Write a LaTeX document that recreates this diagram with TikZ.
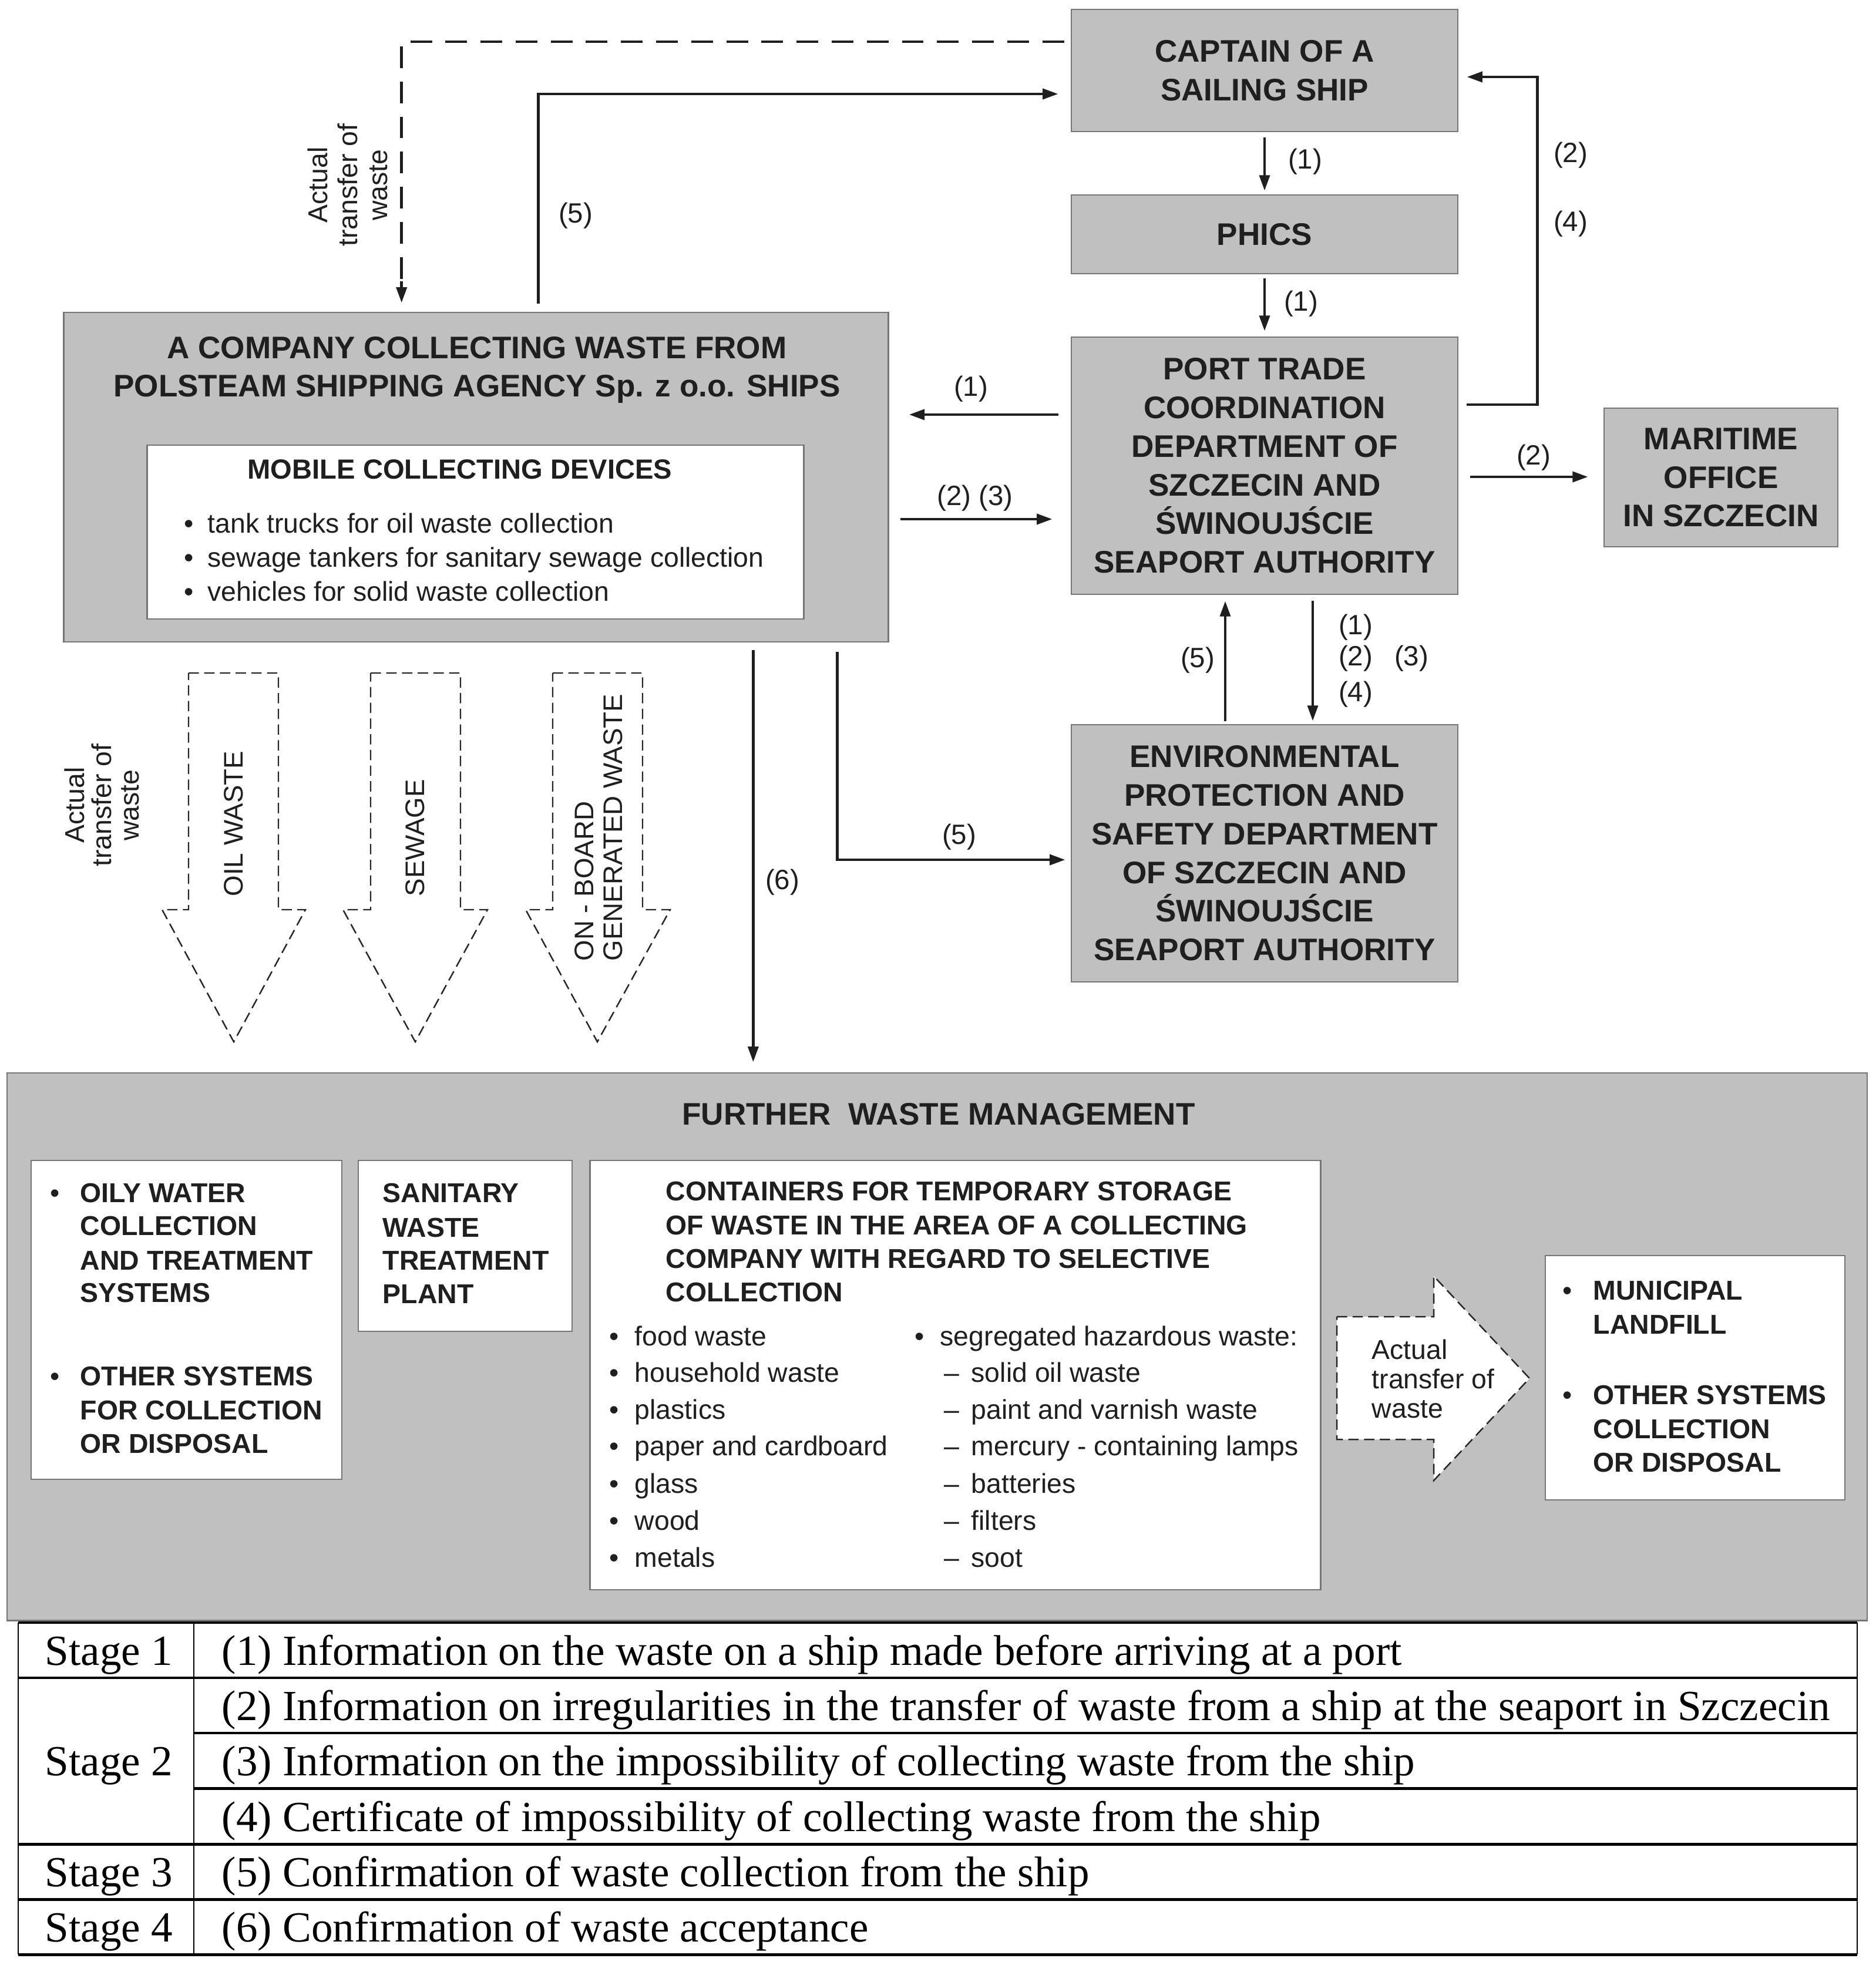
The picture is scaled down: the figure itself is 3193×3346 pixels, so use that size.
\documentclass[tikz,border=0pt]{standalone}
\usepackage{fontspec}
\setmainfont{Liberation Sans}
\newfontfamily\serifF{Liberation Serif}
\usetikzlibrary{arrows.meta,calc}
\definecolor{boxgray}{RGB}{192,192,192}
\definecolor{edgegray}{RGB}{118,118,118}
\begin{document}
\begin{tikzpicture}[x=0.01cm,y=-0.01cm,
  gbox/.style={draw=edgegray,fill=boxgray,line width=0.7pt,inner sep=0pt},
  wbox/.style={draw=edgegray,fill=white,line width=0.7pt,inner sep=0pt},
  btxt/.style={font=\fontsize{15.1}{18.7}\selectfont\bfseries,align=center,text=black!88},
  lbl/.style={font=\fontsize{13.5}{16}\selectfont,inner sep=0pt,text=black!88},
  ln/.style={anchor=west,inner sep=0pt,text height=0.72em,text depth=0pt,text=black!88},
  rtxt/.style={font=\fontsize{13.2}{16}\selectfont},
  bbtxt/.style={font=\fontsize{13.2}{16}\selectfont\bfseries},
  arr/.style={line width=1.35pt,draw=black!88,-{Triangle[length=7.5pt,width=5pt]}},
  dline/.style={line width=1.35pt,draw=black!88,dash pattern=on 10.5pt off 6.5pt},
  bdash/.style={line width=0.7pt,draw=black!85,fill=white,dash pattern=on 5pt off 2.6pt},
  tline/.style={line width=1.4pt},
  vline/.style={line width=0.8pt},
  ttxt/.style={font=\serifF\fontsize{20.8}{24}\selectfont,anchor=base west,inner sep=0pt}
]
\fill[white] (0,0) rectangle (3193,3346);
\useasboundingbox (0,0) rectangle (3193,3346);

% ---------- top boxes ----------
\node[gbox,btxt,minimum width=6.58cm,minimum height=2.08cm] (captain) at (2153,120) {CAPTAIN OF A\\SAILING SHIP};
\node[gbox,btxt,minimum width=6.58cm,minimum height=1.34cm] (phics) at (2153,399) {PHICS};
\node[gbox,btxt,minimum width=6.58cm,minimum height=4.38cm] (port) at (2153,793) {PORT TRADE\\COORDINATION\\DEPARTMENT OF\\SZCZECIN AND\\ŚWINOUJŚCIE\\SEAPORT AUTHORITY};
\node[gbox,btxt,minimum width=3.98cm,minimum height=2.36cm] (maritime) at (2930,813) {MARITIME\\OFFICE\\IN SZCZECIN};
\node[gbox,btxt,minimum width=6.58cm,minimum height=4.38cm] (env) at (2153,1453) {ENVIRONMENTAL\\PROTECTION AND\\SAFETY DEPARTMENT\\OF SZCZECIN AND\\ŚWINOUJŚCIE\\SEAPORT AUTHORITY};

\node[gbox,minimum width=14.03cm,minimum height=5.61cm] (company) at (810.5,812.5) {};
\node[btxt,inner sep=0pt] (comptitle) at (812,630) {A COMPANY COLLECTING WASTE FROM\\POLSTEAM SHIPPING AGENCY Sp. z o.o. SHIPS};
\node[wbox,minimum width=11.17cm,minimum height=2.96cm] (mobile) at (809.5,906) {};
\node[ln,anchor=center,font=\fontsize{13.4}{16}\selectfont\bfseries] (mobtitle) at (783,803) {MOBILE COLLECTING DEVICES};
\foreach \y/\t [count=\i] in {895/tank trucks for oil waste collection,953/sewage tankers for sanitary sewage collection,1011/vehicles for solid waste collection}{
  \node[ln,anchor=center,rtxt] (mobb\i) at (322,\y) {•};
  \node[ln,rtxt] (mobt\i) at (353,\y) {\t};
}

% ---------- connectors top ----------
\coordinate (dA) at ([shift={(-11,-49)}]captain.west);
\draw[dline] (dA) -| ([xshift=5.76cm,yshift=0.5cm]company.north west);
\draw[line width=1.35pt,draw=black!88,-{Triangle[length=7.5pt,width=5pt]}] ([xshift=5.76cm,yshift=0.52cm]company.north west) -- ([xshift=5.76cm,yshift=0.15cm]company.north west);
\node[lbl,rotate=90,align=center,font=\fontsize{13.2}{14.6}\selectfont] (att1) at (592,315) {Actual\\transfer of\\waste};

\draw[arr] ([shift={(809,-14)}]company.north west) |- ([shift={(-21,40)}]captain.west);
\node[lbl] (l5a) at (980,367) {(5)};

\draw[arr,shorten <=0.09cm,shorten >=0.06cm] (captain) -- (phics);
\node[lbl] (l1a) at (2222,275) {(1)};
\draw[arr,shorten <=0.07cm,shorten >=0.09cm] (phics) -- (port);
\node[lbl] (l1b) at (2215,517) {(1)};

\coordinate (p1) at ([shift={(-21,-87)}]port.west);
\draw[arr,shorten >=0.34cm] (p1) -- (p1 -| company.east);
\node[lbl] (l1c) at (1653,662) {(1)};

\coordinate (p23) at ([shift={(-31,91)}]port.west);
\draw[arr,shorten <=0.19cm] (p23 -| company.east) -- (p23);
\node[lbl] (l23) at (1660,848) {(2) (3)};

\draw[arr] ([shift={(14,-104)}]port.east) -- ++(120,0) |- ([shift={(14,11)}]captain.east);
\node[lbl] (l2a) at (2674,264) {(2)};
\node[lbl] (l4a) at (2674,381) {(4)};

\coordinate (p2m) at ([shift={(20,19)}]port.east);
\draw[arr,shorten >=0.26cm] (p2m) -- (p2m -| maritime.west);
\node[lbl] (l2b) at (2611,779) {(2)};

\coordinate (e5) at ([shift={(-67,-5)}]env.north);
\draw[arr,shorten >=0.10cm] (e5) -- (e5 |- port.south);
\node[lbl] (l5b) at (2039,1124) {(5)};

\coordinate (pe) at ([shift={(82,10)}]port.south);
\draw[arr,shorten >=0.05cm] (pe) -- (pe |- env.north);
\node[lbl] (l1d) at (2308,1068) {(1)};
\node[lbl] (l2c) at (2308,1121) {(2)};
\node[lbl] (l3c) at (2403,1121) {(3)};
\node[lbl] (l4c) at (2308,1182) {(4)};

\coordinate (c5) at ([shift={(1318,16)}]company.south west);
\coordinate (e5w) at ([shift={(0,11)}]env.west);
\draw[arr,shorten >=0.09cm] (c5) |- (e5w);
\node[lbl] (l5c) at (1633,1425) {(5)};

% ---------- further waste management ----------
\node[gbox,minimum width=31.65cm,minimum height=9.32cm] (further) at (1595.5,2293) {};
\node[font=\fontsize{15.1}{18}\selectfont\bfseries,inner sep=0pt,text=black!88] (ftitle) at (1598,1897) {FURTHER\ \ WASTE MANAGEMENT};

\coordinate (c6) at ([shift={(1175,13)}]company.south west);
\draw[arr,shorten >=0.17cm] (c6) -- (c6 |- further.north);
\node[lbl] (l6) at (1332,1502) {(6)};

% block arrows
\draw[bdash] (321,1146) -- (474,1146) -- (474,1549) -- (520,1549) -- (398,1774) -- (276,1549) -- (321,1549) -- cycle;
\draw[bdash] (631,1146) -- (784,1146) -- (784,1549) -- (830,1549) -- (707,1774) -- (584,1549) -- (631,1549) -- cycle;
\draw[bdash] (941,1146) -- (1094,1146) -- (1094,1549) -- (1141,1549) -- (1017,1774) -- (895,1549) -- (941,1549) -- cycle;
\node[lbl,rotate=90,anchor=west,font=\fontsize{13}{15}\selectfont] (oil) at (398,1527) {OIL WASTE};
\node[lbl,rotate=90,anchor=west,font=\fontsize{13}{15}\selectfont] (sew) at (707,1527) {SEWAGE};
\node[lbl,rotate=90,anchor=west,align=left,font=\fontsize{13}{13.8}\selectfont] (onb) at (1019,1637) {ON - BOARD\\GENERATED WASTE};
\node[lbl,rotate=90,align=center,font=\fontsize{13.2}{13.2}\selectfont] (att2) at (173,1371) {Actual\\transfer of\\waste};

% boxes in further
\node[wbox,minimum width=5.29cm,minimum height=5.43cm] (b1) at (317.5,2247.5) {};
\node[wbox,minimum width=3.64cm,minimum height=2.91cm] (b2) at (792,2121.5) {};
\node[wbox,minimum width=12.43cm,minimum height=7.31cm] (b3) at (1626.5,2341.5) {};
\node[wbox,minimum width=5.10cm,minimum height=4.16cm] (b4) at (2886,2346) {};

\node[ln,anchor=center,rtxt] (b1b1) at (94,2035) {•};
\node[ln,anchor=center,rtxt] (b1b2) at (94,2347) {•};
\foreach \y/\t [count=\i] in {2035/OILY WATER,2091/COLLECTION,2150/AND TREATMENT,2205/SYSTEMS,2347/OTHER SYSTEMS,2405/FOR COLLECTION,2462/OR DISPOSAL}{
  \node[ln,bbtxt] (b1t\i) at (136,\y) {\t};
}
\foreach \y/\t [count=\i] in {2035/SANITARY,2094/WASTE,2150/TREATMENT,2207/PLANT}{
  \node[ln,bbtxt] (b2t\i) at (651,\y) {\t};
}
\foreach \y/\t [count=\i] in {2032/CONTAINERS FOR TEMPORARY STORAGE,2090/OF WASTE IN THE AREA OF A COLLECTING,2147/COMPANY WITH REGARD TO SELECTIVE,2204/COLLECTION}{
  \node[ln,bbtxt] (b3t\i) at (1133,\y) {\t};
}
\foreach \y/\t [count=\i] in {2279/food waste,2341/household waste,2404/plastics,2466/paper and cardboard,2530/glass,2593/wood,2656/metals}{
  \node[ln,anchor=center,rtxt] (b3lb\i) at (1046,\y) {•};
  \node[ln,rtxt] (b3lt\i) at (1080,\y) {\t};
}
\node[ln,anchor=center,rtxt] (b3rb) at (1566,2279) {•};
\node[ln,rtxt] (b3rt) at (1600,2279) {segregated hazardous waste:};
\foreach \y/\t [count=\i] in {2341/solid oil waste,2404/paint and varnish waste,2466/mercury - containing lamps,2530/batteries,2593/filters,2656/soot}{
  \node[ln,anchor=center,rtxt] (b3rd\i) at (1620,\y) {–};
  \node[ln,rtxt] (b3rs\i) at (1653,\y) {\t};
}

\draw[bdash] (2276,2242) -- (2441,2242) -- (2441,2173) -- (2604,2347) -- (2441,2521) -- (2441,2451) -- (2276,2451) -- cycle;
\node[lbl,anchor=west,align=left,font=\fontsize{13.2}{14.2}\selectfont] (att3) at (2335,2348) {Actual\\transfer of\\waste};

\node[ln,anchor=center,rtxt] (b4b1) at (2669,2201) {•};
\node[ln,anchor=center,rtxt] (b4b2) at (2669,2379) {•};
\foreach \y/\t [count=\i] in {2201/MUNICIPAL,2259/LANDFILL,2379/OTHER SYSTEMS,2437/COLLECTION,2494/OR DISPOSAL}{
  \node[ln,bbtxt] (b4t\i) at (2712,\y) {\t};
}

% ---------- table ----------
\foreach \y in {2763,2857,3140,3234,3328}{\draw[tline] (31,\y) -- (3162,\y);}
\foreach \y in {2951,3045}{\draw[tline] (330,\y) -- (3162,\y);}
\foreach \x in {31,330,3162}{\draw[vline] (\x,2763) -- (\x,3328);}
\node[ttxt] (s1) at (76,2835) {Stage 1};
\node[ttxt] (s2) at (76,3023) {Stage 2};
\node[ttxt] (s3) at (76,3212) {Stage 3};
\node[ttxt] (s4) at (76,3306) {Stage 4};
\node[ttxt] (d1) at (377,2835) {(1) Information on the waste on a ship made before arriving at a port};
\node[ttxt] (d2) at (377,2929) {(2) Information on irregularities in the transfer of waste from a ship at the seaport in Szczecin};
\node[ttxt] (d3) at (377,3023) {(3) Information on the impossibility of collecting waste from the ship};
\node[ttxt] (d4) at (377,3118) {(4) Certificate of impossibility of collecting waste from the ship};
\node[ttxt] (d5) at (377,3212) {(5) Confirmation of waste collection from the ship};
\node[ttxt] (d6) at (377,3306) {(6) Confirmation of waste acceptance};
\end{tikzpicture}
\end{document}
